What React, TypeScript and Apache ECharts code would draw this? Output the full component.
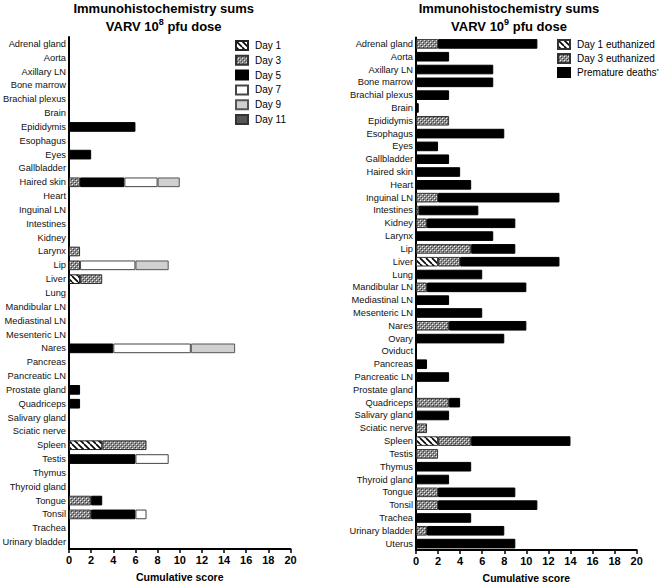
import React, { useEffect, useRef } from "react";
import * as echarts from "echarts";

const leftCategories = [
  "Adrenal gland", "Aorta", "Axillary LN", "Bone marrow", "Brachial plexus", "Brain",
  "Epididymis", "Esophagus", "Eyes", "Gallbladder", "Haired skin", "Heart", "Inguinal LN",
  "Intestines", "Kidney", "Larynx", "Lip", "Liver", "Lung", "Mandibular LN", "Mediastinal LN",
  "Mesenteric LN", "Nares", "Pancreas", "Pancreatic LN", "Prostate gland", "Quadriceps",
  "Salivary gland", "Sciatic nerve", "Spleen", "Testis", "Thymus", "Thyroid gland", "Tongue",
  "Tonsil", "Trachea", "Urinary bladder",
];

const rightCategories = [
  "Adrenal gland", "Aorta", "Axillary LN", "Bone marrow", "Brachial plexus", "Brain",
  "Epididymis", "Esophagus", "Eyes", "Gallbladder", "Haired skin", "Heart", "Inguinal LN",
  "Intestines", "Kidney", "Larynx", "Lip", "Liver", "Lung", "Mandibular LN", "Mediastinal LN",
  "Mesenteric LN", "Nares", "Ovary", "Oviduct", "Pancreas", "Pancreatic LN", "Prostate gland",
  "Quadriceps", "Salivary gland", "Sciatic nerve", "Spleen", "Testis", "Thymus", "Thyroid gland",
  "Tongue", "Tonsil", "Trachea", "Urinary bladder", "Uterus",
];

// Left chart (10^8 pfu) values
const day1L = [0,0,0,0,0,0,0,0,0,0, 0,0,0,0,0,0,0,1,0,0, 0,0,0,0,0,0,0,0,0,3, 0,0,0,0,0,0,0];
const day3L = [0,0,0,0,0,0,0,0,0,0, 1,0,0,0,0,1,1,2,0,0, 0,0,0,0,0,0,0,0,0,4, 0,0,0,2,2,0,0];
const day5L = [0,0,0,0,0,0,6,0,2,0, 4,0,0,0,0,0,0,0,0,0, 0,0,4,0,0,1,1,0,0,0, 6,0,0,1,4,0,0];
const day7L = [0,0,0,0,0,0,0,0,0,0, 3,0,0,0,0,0,5,0,0,0, 0,0,7,0,0,0,0,0,0,0, 3,0,0,0,1,0,0];
const day9L = [0,0,0,0,0,0,0,0,0,0, 2,0,0,0,0,0,3,0,0,0, 0,0,4,0,0,0,0,0,0,0, 0,0,0,0,0,0,0];
const day11L = [0,0,0,0,0,0,0,0,0,0, 0,0,0,0,0,0,0,0,0,0, 0,0,0,0,0,0,0,0,0,0, 0,0,0,0,0,0,0];

// Right chart (10^9 pfu) values
const day1R = [0,0,0,0,0,0,0,0,0,0, 0,0,0,0,0,0,0,2,0,0, 0,0,0,0,0,0,0,0,0,0, 0,2,0,0,0,0,0,0,0,0];
const day3R = [2,0,0,0,0,0,3,0,0,0, 0,0,2,0.25,1,0,5,2,0,1, 0,0,3,0,0,0,0,0,3,0, 1,3,2,0,0,2,2,0,1,0];
const prematureR = [9,3,7,7,3,0.25,0,8,2,3, 4,5,11,5.4,8,7,4,9,6,9, 3,6,7,8,0,1,3,0,1,3, 0,9,0,5,3,7,9,5,7,9];

const xTicks = { min: 0, max: 20, interval: 2 };
const leftNames = ["Day 1", "Day 3", "Day 5", "Day 7", "Day 9", "Day 11"];
const rightNames = ["Day 1 euthanized", "Day 3 euthanized", "Premature deaths"];

const FONT = "Liberation Sans, Arial, sans-serif";

function stripeTile() {
  const c = document.createElement("canvas");
  c.width = 6; c.height = 6;
  const ctx = c.getContext("2d")!;
  ctx.fillStyle = "#fff"; ctx.fillRect(0, 0, 6, 6);
  ctx.strokeStyle = "#000"; ctx.lineWidth = 1.6;
  for (const o of [-6, 0, 6]) {
    ctx.beginPath(); ctx.moveTo(o, 0); ctx.lineTo(o + 6, 6); ctx.stroke();
  }
  return c;
}
function checkerTile() {
  const c = document.createElement("canvas");
  c.width = 4; c.height = 4;
  const ctx = c.getContext("2d")!;
  ctx.fillStyle = "#8c8c8c"; ctx.fillRect(0, 0, 4, 4);
  ctx.fillStyle = "#f0f0f0";
  ctx.fillRect(0, 0, 1, 1); ctx.fillRect(2, 2, 1, 1);
  ctx.fillStyle = "#3a3a3a";
  ctx.fillRect(1, 1, 1, 1); ctx.fillRect(3, 3, 1, 1);
  return c;
}

const nz = (a: number[]) => a.map((v) => (v === 0 ? null : v));

export default function App() {
  const ref = useRef<HTMLDivElement>(null);
  useEffect(() => {
    if (!ref.current) return;
    const chart = echarts.init(ref.current, null, { renderer: "svg" });
    const stripe = { image: stripeTile(), repeat: "repeat", imageWidth: 6, imageHeight: 6 } as any;
    const checker = { image: checkerTile(), repeat: "repeat", imageWidth: 4, imageHeight: 4 } as any;

    const catAxis = (data: string[], gi: number) => ({
      type: "category",
      gridIndex: gi,
      data,
      inverse: true,
      axisLine: { lineStyle: { color: "#000", width: 2 } },
      axisTick: { alignWithLabel: true, length: 3, lineStyle: { color: "#000", width: 1.5 } },
      axisLabel: { fontSize: 9.3, color: "#111", margin: 3, fontFamily: FONT },
    });
    const valAxis = (gi: number) => ({
      type: "value",
      gridIndex: gi,
      min: xTicks.min,
      max: xTicks.max,
      interval: xTicks.interval,
      splitLine: { show: false },
      axisLine: { show: true, lineStyle: { color: "#000", width: 2 } },
      axisTick: { show: true, length: 4, lineStyle: { color: "#000", width: 1.5 } },
      axisLabel: { fontSize: 11, fontWeight: "bold", color: "#000", margin: 5, fontFamily: FONT },
      name: "Cumulative score",
      nameLocation: "middle",
      nameGap: 22,
      nameTextStyle: { fontSize: 10.5, fontWeight: "bold", color: "#000", fontFamily: FONT },
    });

    const leftColors = [stripe, checker, "#000", "#fff", "#d0d0d0", "#555"];
    const leftBorders = ["#222", "#333", "#000", "#444", "#555", "#333"];
    const leftData = [day1L, day3L, day5L, day7L, day9L, day11L];
    const rightColors = [stripe, checker, "#000"];
    const rightData = [day1R, day3R, prematureR];

    const series: any[] = [];
    leftNames.forEach((n, i) => {
      series.push({
        type: "bar", name: n, stack: "L", xAxisIndex: 0, yAxisIndex: 0,
        barWidth: "70%", data: nz(leftData[i]),
        itemStyle: { color: leftColors[i], borderColor: leftBorders[i], borderWidth: 1 },
      });
    });
    rightNames.forEach((n, i) => {
      series.push({
        type: "bar", name: n, stack: "R", xAxisIndex: 1, yAxisIndex: 1,
        barWidth: "75%", data: nz(rightData[i]),
        itemStyle: { color: rightColors[i], borderColor: i === 2 ? "#000" : "#333", borderWidth: 1 },
      });
    });

    const titleRich = {
      sup: { fontSize: 9, fontWeight: "bold", color: "#000", verticalAlign: "top", lineHeight: 18, fontFamily: FONT },
    };
    const titleStyle = { fontSize: 13, fontWeight: "bold", color: "#000", lineHeight: 18, fontFamily: FONT, rich: titleRich };

    chart.setOption({
      animation: false,
      backgroundColor: "#fff",
      textStyle: { fontFamily: FONT },
      title: [
        { text: "Immunohistochemistry sums\nVARV 10{sup|8} pfu dose", left: 158.7, top: -6, textAlign: "center", textStyle: titleStyle },
        { text: "Immunohistochemistry sums\nVARV 10{sup|9} pfu dose", left: 504, top: -6, textAlign: "center", textStyle: titleStyle },
      ],
      legend: [
        {
          data: leftNames, orient: "vertical", left: 230, top: 35, itemWidth: 12, itemHeight: 9, itemGap: 3.8,
          icon: "rect", selectedMode: false,
          textStyle: { fontSize: 10, color: "#000", padding: [0, 0, 0, 2] },
        },
        {
          data: rightNames, orient: "vertical", left: 552, top: 34, itemWidth: 12, itemHeight: 9, itemGap: 3,
          icon: "rect", selectedMode: false,
          formatter: (n: string) => (n === "Premature deaths" ? "{a|Premature deaths}{s|*}" : n),
          textStyle: {
            fontSize: 10, color: "#000", padding: [0, 0, 0, 2],
            rich: { a: { fontSize: 10, color: "#000" }, s: { fontSize: 6, color: "#000", verticalAlign: "top" } },
          },
        },
      ],
      grid: [
        { left: 69, top: 37, width: 221.5, height: 512, containLabel: false, outerBoundsMode: "none" },
        { left: 416, top: 37.5, width: 220.7, height: 512.5, containLabel: false, outerBoundsMode: "none" },
      ],
      xAxis: [valAxis(0), valAxis(1)],
      yAxis: [catAxis(leftCategories, 0), catAxis(rightCategories, 1)],
      series,
    } as any);
    return () => chart.dispose();
  }, []);
  return <div ref={ref} style={{ position: "fixed", left: 0, top: 0, width: 661, height: 584 }} />;
}
